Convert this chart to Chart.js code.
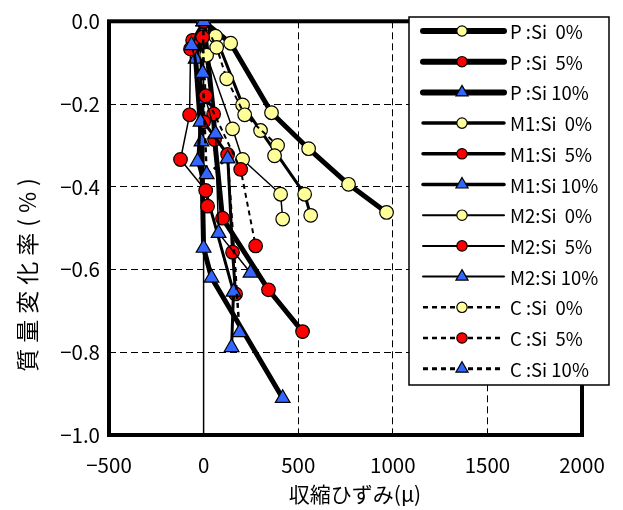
<!DOCTYPE html>
<html>
<head>
<meta charset="utf-8">
<script src="https://cdn.jsdelivr.net/npm/chart.js@4.4.0/dist/chart.umd.min.js"></script>
<style>
  html, body { margin: 0; padding: 0; background: #fff; }
  canvas { display: block; }
</style>
</head>
<body>
<canvas id="chart" width="623" height="510"></canvas>
<script>
// 収縮ひずみ(μ) と 質量変化率(%) の関係

const xTicks = [-500, 0, 500, 1000, 1500, 2000];
const yTicks = [0, -0.2, -0.4, -0.6, -0.8, -1.0];

// P
const strainP0 = [0, 143, 359, 555, 766, 967];
const massP0 = [0, -0.053, -0.221, -0.308, -0.394, -0.462];
const strainP5 = [0, 53, 58, 100, 343, 523];
const massP5 = [0, -0.224, -0.286, -0.476, -0.649, -0.750];
const strainP10 = [0, -42, -11, 0, 42, 418];
const massP10 = [0, -0.091, -0.291, -0.548, -0.620, -0.911];

// M1
const strainM1_0 = [0, 63, 206, 301, 534, 566];
const massM1_0 = [0, -0.036, -0.202, -0.264, -0.418, -0.469];
const strainM1_5 = [0, -58, 0, 127, 153, 169];
const massM1_5 = [0, -0.046, -0.243, -0.322, -0.558, -0.659];
const strainM1_10 = [0, -11, -16, -32, 158, 148];
const massM1_10 = [0, -0.029, -0.243, -0.339, -0.654, -0.788];

// M2
const strainM2_0 = [0, 16, 153, 206, 407, 418];
const massM2_0 = [0, -0.082, -0.260, -0.334, -0.418, -0.478];
const strainM2_5 = [0, -69, -74, -122, 11, 21];
const massM2_5 = [0, -0.067, -0.226, -0.334, -0.409, -0.447];
const strainM2_10 = [0, -64, 11, 63, 79, 248];
const massM2_10 = [0, -0.058, -0.188, -0.272, -0.512, -0.608];

// C
const strainC0 = [0, 69, 122, 217, 391, 375];
const massC0 = [0, -0.063, -0.139, -0.226, -0.300, -0.325];
const strainC5 = [0, -5, 11, 196, 275];
const massC5 = [0, -0.038, -0.180, -0.358, -0.543];
const strainC10 = [0, -5, 16, 127, 190];
const massC10 = [0, -0.125, -0.370, -0.332, -0.752];

const yellow = '#ffff99';
const red = '#ff0000';
const blue = '#3366ff';
const jpFont = '"Noto Sans CJK JP", sans-serif';

const series = [
  { label: 'P :Si  0%', x: strainP0, y: massP0, fill: yellow, style: 'circle', width: 5, dash: [] },
  { label: 'P :Si  5%', x: strainP5, y: massP5, fill: red, style: 'circle', width: 5, dash: [] },
  { label: 'P :Si 10%', x: strainP10, y: massP10, fill: blue, style: 'triangle', width: 5, dash: [] },
  { label: 'M1:Si  0%', x: strainM1_0, y: massM1_0, fill: yellow, style: 'circle', width: 3, dash: [] },
  { label: 'M1:Si  5%', x: strainM1_5, y: massM1_5, fill: red, style: 'circle', width: 3, dash: [] },
  { label: 'M1:Si 10%', x: strainM1_10, y: massM1_10, fill: blue, style: 'triangle', width: 3, dash: [] },
  { label: 'M2:Si  0%', x: strainM2_0, y: massM2_0, fill: yellow, style: 'circle', width: 1.5, dash: [] },
  { label: 'M2:Si  5%', x: strainM2_5, y: massM2_5, fill: red, style: 'circle', width: 1.5, dash: [] },
  { label: 'M2:Si 10%', x: strainM2_10, y: massM2_10, fill: blue, style: 'triangle', width: 1.5, dash: [] },
  { label: 'C :Si  0%', x: strainC0, y: massC0, fill: yellow, style: 'circle', width: 2, dash: [5, 4] },
  { label: 'C :Si  5%', x: strainC5, y: massC5, fill: red, style: 'circle', width: 2, dash: [5, 4] },
  { label: 'C :Si 10%', x: strainC10, y: massC10, fill: blue, style: 'triangle', width: 2.5, dash: [5, 4] }
];

const datasets = series.map((s, i) => ({
  label: s.label,
  data: s.x.map((v, k) => ({ x: v, y: s.y[k] })),
  showLine: true,
  tension: 0,
  borderColor: '#000',
  borderWidth: s.width,
  borderDash: s.dash,
  borderJoinStyle: 'round',
  pointStyle: s.style,
  pointRadius: s.style === 'triangle' ? 8.5 : 6.8,
  pointBackgroundColor: s.fill,
  pointBorderColor: '#000',
  pointBorderWidth: 1.2,
  // later series on top
  order: series.length - i
}));

const minus = t => String(t).replace('-', '\u2212');

// plot frame plus the solid line at zero strain
const framePlugin = {
  id: 'frame',
  beforeDatasetsDraw(chart) {
    const { ctx, chartArea: a } = chart;
    const x0 = chart.scales.x.getPixelForValue(0);
    ctx.save();
    ctx.strokeStyle = '#000';
    ctx.lineWidth = 1.5;
    ctx.beginPath();
    ctx.moveTo(x0, a.top);
    ctx.lineTo(x0, a.bottom);
    ctx.stroke();
    ctx.lineWidth = 4;
    ctx.strokeRect(a.left, a.top, a.right - a.left, a.bottom - a.top);
    ctx.restore();
  }
};

function drawMarker(ctx, style, x, y, fill) {
  ctx.beginPath();
  if (style === 'triangle') {
    const r = 7;
    ctx.moveTo(x, y - r);
    ctx.lineTo(x + r * 0.866, y + r * 0.5);
    ctx.lineTo(x - r * 0.866, y + r * 0.5);
    ctx.closePath();
  } else {
    ctx.arc(x, y, 5.2, 0, Math.PI * 2);
  }
  ctx.fillStyle = fill;
  ctx.fill();
  ctx.setLineDash([]);
  ctx.lineWidth = 1.2;
  ctx.strokeStyle = '#000';
  ctx.stroke();
}

// legend box with line samples, plus both axis titles
const legendPlugin = {
  id: 'boxLegend',
  afterDraw(chart) {
    const { ctx } = chart;
    const box = { left: 409, top: 17, right: 609, bottom: 385 };
    ctx.save();
    ctx.fillStyle = '#fff';
    ctx.fillRect(box.left, box.top, box.right - box.left, box.bottom - box.top);
    ctx.strokeStyle = '#000';
    ctx.lineWidth = 1.5;
    ctx.strokeRect(box.left, box.top, box.right - box.left, box.bottom - box.top);

    ctx.font = '18.5px ' + jpFont;
    ctx.textBaseline = 'middle';
    ctx.textAlign = 'left';
    series.forEach((s, i) => {
      const y = 31 + i * 30.7;
      ctx.strokeStyle = '#000';
      ctx.lineWidth = s.width + (s.width >= 5 ? 1 : 0.5);
      ctx.lineCap = s.dash.length ? 'butt' : 'round';
      ctx.setLineDash(s.dash);
      ctx.beginPath();
      ctx.moveTo(423, y);
      ctx.lineTo(504, y);
      ctx.stroke();
      drawMarker(ctx, s.style, 462, y, s.fill);
      ctx.fillStyle = '#000';
      ctx.fillText(s.label, 510, y + 1);
    });

    ctx.font = '21px ' + jpFont;
    ctx.textAlign = 'center';
    ctx.fillStyle = '#000';
    ctx.fillText('収縮ひずみ(μ)', 355, 494);

    ctx.translate(27, 275);
    ctx.rotate(-Math.PI / 2);
    ctx.font = '23px ' + jpFont;
    ctx.letterSpacing = '6px';
    ctx.fillText('質量変化率(%)', 3, 0);
    ctx.restore();
  }
};

new Chart(document.getElementById('chart'), {
  type: 'scatter',
  data: { datasets },
  options: {
    responsive: false,
    animation: false,
    devicePixelRatio: 1,
    layout: { padding: { top: 19, right: 41, left: 0, bottom: 0 } },
    plugins: {
      legend: { display: false },
      tooltip: { enabled: false }
    },
    scales: {
      x: {
        type: 'linear',
        min: xTicks[0],
        max: xTicks[xTicks.length - 1],
        afterBuildTicks: s => { s.ticks = xTicks.map(v => ({ value: v })); },
        afterFit: s => { s.height = 75; },
        ticks: {
          padding: 18,
          color: '#000',
          font: { family: jpFont, size: 20.5 },
          callback: v => minus(v)
        },
        grid: {
          drawTicks: false,
          lineWidth: 1,
          color: c => (c.tick && (c.tick.value === xTicks[0] || c.tick.value === xTicks[xTicks.length - 1] || c.tick.value === 0)) ? 'rgba(0,0,0,0)' : '#000'
        },
        border: { display: false, dash: [7, 4] }
      },
      y: {
        type: 'linear',
        min: yTicks[yTicks.length - 1],
        max: yTicks[0],
        afterBuildTicks: s => { s.ticks = yTicks.map(v => ({ value: v })); },
        afterFit: s => { s.width = 109; },
        ticks: {
          padding: 9,
          color: '#000',
          font: { family: jpFont, size: 20.5 },
          callback: v => minus(v.toFixed(1))
        },
        grid: {
          drawTicks: false,
          lineWidth: 1,
          color: c => (c.tick && (c.tick.value === yTicks[0] || c.tick.value === yTicks[yTicks.length - 1])) ? 'rgba(0,0,0,0)' : '#000'
        },
        border: { display: false, dash: [7, 4] }
      }
    }
  },
  plugins: [framePlugin, legendPlugin]
});
</script>
</body>
</html>
